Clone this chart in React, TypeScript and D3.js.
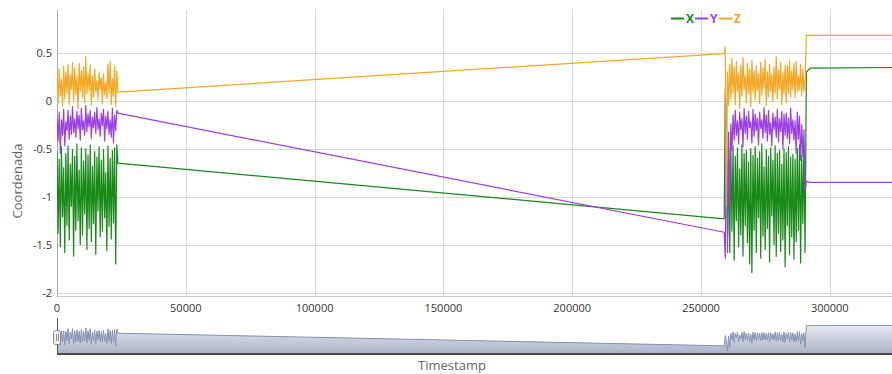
import React from "react";
import * as d3 from "d3";

// Accelerometer-style coordinate samples: two recording bursts, then a steady tail.
const SAMPLE_MS = 430;
const BURST1_START = 0;
const BURST2_START = 259000;

const X_BURST1 = [
  -0.52, -1.38, -0.61, -1.52, -0.48, -1.21, -0.7, -1.58,
  -0.55, -1.3, -0.47, -1.45, -0.66, -1.1, -0.51, -1.62,
  -0.58, -1.35, -0.45, -1.25, -0.72, -1.5, -0.49, -1.4,
  -0.63, -1.18, -0.5, -1.55, -0.57, -1.33, -0.46, -1.47,
  -0.68, -1.28, -0.53, -1.6, -0.59, -1.15, -0.48, -1.42,
  -0.62, -1.36, -0.51, -1.22, -0.75, -1.56, -0.47, -1.31,
  -0.6, -1.44, -0.52, -1.27, -0.49, -1.7, -0.46, -0.65,
];
const Y_BURST1 = [
  -0.18, -0.42, -0.12, -0.55, -0.2, -0.36, -0.09, -0.47,
  -0.22, -0.31, -0.1, -0.4, -0.16, -0.35, -0.06, -0.33,
  -0.19, -0.38, -0.11, -0.29, -0.15, -0.41, -0.08, -0.3,
  -0.21, -0.36, -0.05, -0.32, -0.14, -0.27, -0.1, -0.39,
  -0.17, -0.28, -0.12, -0.34, -0.07, -0.3, -0.19, -0.37,
  -0.13, -0.26, -0.09, -0.42, -0.16, -0.29, -0.11, -0.35,
  -0.2, -0.38, -0.08, -0.44, -0.15, -0.31, -0.1, -0.13,
];
const Z_BURST1 = [
  0.28, -0.02, 0.33, 0.05, 0.22, -0.06, 0.36, 0.02,
  0.3, 0.08, 0.38, -0.04, 0.27, 0.12, 0.4, 0.0,
  0.34, 0.06, 0.25, -0.08, 0.39, 0.1, 0.31, 0.03,
  0.35, -0.02, 0.46, 0.07, 0.29, 0.11, 0.37, -0.05,
  0.26, 0.04, 0.33, 0.09, 0.21, 0.01, 0.3, 0.12,
  0.24, -0.03, 0.28, 0.06, 0.19, 0.02, 0.38, 0.08,
  0.41, -0.04, 0.23, 0.05, 0.36, -0.06, 0.31, 0.09,
];

const X_BURST2 = [
  -1.23, 0.12, -0.28, -1.42, -0.62, -1.58, -0.5, -1.36,
  -0.47, -1.66, -0.58, -1.25, -0.49, -1.52, -0.71, -1.4,
  -0.46, -1.62, -0.55, -1.3, -0.52, -1.48, -0.64, -1.7,
  -0.5, -1.79, -0.57, -1.35, -0.48, -1.58, -0.6, -1.22,
  -0.53, -1.64, -0.45, -1.41, -0.69, -1.55, -0.51, -1.33,
  -0.58, -1.68, -0.49, -1.2, -0.62, -1.5, -0.47, -1.62,
  -0.55, -1.38, -0.52, -1.57, -0.66, -1.45, -0.5, -1.73,
  -0.54, -1.3, -0.48, -1.6, -0.59, -1.42, -0.56, -1.65,
  -0.61, -1.47, -0.5, -1.35, -0.46, -1.69, -0.57, -1.28,
  -0.44, -1.58,
];
const Y_BURST2 = [
  -1.37, -1.64, -0.18, -1.58, -0.33, -1.08, -0.24, -0.52,
  -0.15, -0.41, -0.1, -0.36, -0.21, -0.45, -0.12, -0.3,
  -0.19, -0.48, -0.08, -0.34, -0.16, -0.4, -0.11, -0.28,
  -0.22, -0.44, -0.09, -0.37, -0.14, -0.31, -0.18, -0.46,
  -0.12, -0.29, -0.2, -0.39, -0.07, -0.33, -0.15, -0.42,
  -0.1, -0.35, -0.23, -0.47, -0.13, -0.3, -0.17, -0.38,
  -0.09, -0.43, -0.19, -0.32, -0.11, -0.5, -0.14, -0.36,
  -0.13, -0.39, -0.18, -0.45, -0.08, -0.34, -0.2, -0.41,
  -0.21, -0.55, -0.12, -0.4, -0.16, -0.62, -0.25, -0.58,
  -0.3, -0.95,
];
const Z_BURST2 = [
  0.49, 0.56, -1.1, 0.3, -0.05, 0.38, 0.02, 0.44,
  0.08, 0.35, -0.04, 0.41, 0.1, 0.29, -0.08, 0.37,
  0.05, 0.45, 0.12, 0.26, -0.02, 0.39, 0.07, 0.33,
  -0.06, 0.42, 0.09, 0.31, 0.01, 0.36, 0.11, 0.28,
  -0.03, 0.4, 0.06, 0.34, 0.13, 0.43, -0.05, 0.3,
  0.04, 0.38, 0.1, 0.27, -0.01, 0.35, 0.08, 0.46,
  0.02, 0.32, 0.12, 0.4, -0.04, 0.29, 0.07, 0.37,
  -0.02, 0.36, 0.08, 0.42, 0.04, 0.31, 0.12, 0.39,
  0.03, 0.41, 0.09, 0.26, 0.11, 0.38, 0.05, 0.33,
  0.1, 0.22,
];

const TAIL_T = [290900, 292500, 345000];
const TAIL_X = [0.3, 0.34, 0.35];
const TAIL_Y = [-0.84, -0.85, -0.85];
const TAIL_Z = [0.68, 0.68, 0.68];

const SERIES_NAMES = ["X", "Y", "Z"];
const SERIES_COLORS = ["#178a17", "#9a3fe6", "#f5a623"];

const X_TICKS = [0, 50000, 100000, 150000, 200000, 250000, 300000];
const Y_TICKS = [0.5, 0, -0.5, -1, -1.5, -2];
const Y_TICK_LABELS = ["0.5", "0", "-0.5", "-1", "-1.5", "-2"];

type Pt = { t: number; v: number };

function buildSeries(b1: number[], b2: number[], tail: number[]): Pt[] {
  const pts: Pt[] = [];
  b1.forEach((v, i) => pts.push({ t: BURST1_START + i * SAMPLE_MS, v }));
  b2.forEach((v, i) => pts.push({ t: BURST2_START + i * SAMPLE_MS, v }));
  tail.forEach((v, i) => pts.push({ t: TAIL_T[i], v }));
  return pts;
}

const W = 892;
const H = 374;
const PLOT_LEFT = 57;
const PLOT_TOP = 10;
const PLOT_BOTTOM = 297;
const NAV_TOP = 318;
const NAV_BOTTOM = 354;
const FONT = "'Open Sans', 'DejaVu Sans', sans-serif";

export default function App() {
  const series = [
    buildSeries(X_BURST1, X_BURST2, TAIL_X),
    buildSeries(Y_BURST1, Y_BURST2, TAIL_Y),
    buildSeries(Z_BURST1, Z_BURST2, TAIL_Z),
  ];

  const x = d3.scaleLinear().domain([0, 300000]).range([PLOT_LEFT, 829.8]);
  const y = d3.scaleLinear().domain([-2, 0.5]).range([292.7, 52.7]);

  const line = d3
    .line<Pt>()
    .x((d) => x(d.t))
    .y((d) => y(d.v));

  // Navigator shows the summed coordinates over the full time range
  const navData: Pt[] = series[0].map((p, i) => ({
    t: p.t,
    v: p.v + series[1][i].v + series[2][i].v,
  }));
  const ny = d3.scaleLinear().domain([-2.95, 1.0]).range([353.3, 318.2]);
  const navArea = d3
    .area<Pt>()
    .x((d) => x(d.t))
    .y0(NAV_BOTTOM)
    .y1((d) => ny(d.v));
  const navLine = d3
    .line<Pt>()
    .x((d) => x(d.t))
    .y((d) => ny(d.v));

  const legendX = [671, 695, 719];

  return (
    <svg
      width={W}
      height={H}
      style={{ position: "absolute", left: 0, top: 0, background: "#fff" }}
      fontFamily={FONT}
    >
      <defs>
        <clipPath id="plot-clip">
          <rect x={PLOT_LEFT} y={PLOT_TOP} width={W - PLOT_LEFT} height={PLOT_BOTTOM - PLOT_TOP} />
        </clipPath>
        <clipPath id="nav-clip">
          <rect x={PLOT_LEFT} y={NAV_TOP - 4} width={W - PLOT_LEFT} height={NAV_BOTTOM - NAV_TOP + 4} />
        </clipPath>
        <linearGradient id="nav-fill" x1="0" y1="0" x2="0" y2="1">
          <stop offset="0%" stopColor="#e6e9f1" />
          <stop offset="100%" stopColor="#aab2c8" />
        </linearGradient>
      </defs>

      {/* horizontal grid */}
      {Y_TICKS.map((t) => (
        <line
          key={"hy" + t}
          x1={PLOT_LEFT}
          x2={W}
          y1={Math.round(y(t)) + 0.5}
          y2={Math.round(y(t)) + 0.5}
          stroke="#d6d6d6"
          strokeWidth={1}
        />
      ))}
      {/* vertical grid */}
      {X_TICKS.slice(1).map((t) => (
        <line
          key={"vx" + t}
          x1={Math.round(x(t)) + 0.5}
          x2={Math.round(x(t)) + 0.5}
          y1={PLOT_TOP}
          y2={PLOT_BOTTOM}
          stroke="#d6d6d6"
          strokeWidth={1}
        />
      ))}
      {/* axis lines */}
      <line x1={PLOT_LEFT} x2={W} y1={PLOT_BOTTOM - 0.5} y2={PLOT_BOTTOM - 0.5} stroke="#c8c8c8" />
      <line x1={PLOT_LEFT + 0.5} x2={PLOT_LEFT + 0.5} y1={PLOT_TOP} y2={PLOT_BOTTOM} stroke="#a8a8a8" />

      {/* y tick labels */}
      {Y_TICKS.map((t, i) => (
        <text
          key={"yl" + t}
          x={52}
          y={y(t) + 4}
          textAnchor="end"
          fontSize={11}
          fill="#333"
        >
          {Y_TICK_LABELS[i]}
        </text>
      ))}
      {/* x tick labels */}
      {X_TICKS.map((t) => (
        <text key={"xl" + t} x={x(t)} y={312} textAnchor="middle" fontSize={11} fill="#333">
          {t}
        </text>
      ))}

      <text
        transform="translate(22,181) rotate(-90)"
        textAnchor="middle"
        fontSize={13}
        fill="#666"
      >
        Coordenada
      </text>
      <text x={452} y={370} textAnchor="middle" fontSize={13} fill="#666">
        Timestamp
      </text>

      {/* series */}
      <g clipPath="url(#plot-clip)">
        {series.map((s, i) => (
          <path
            key={SERIES_NAMES[i]}
            d={line(s) || ""}
            fill="none"
            stroke={SERIES_COLORS[i]}
            strokeWidth={1.2}
            strokeLinejoin="round"
          />
        ))}
      </g>

      {/* legend */}
      {SERIES_NAMES.map((n, i) => (
        <g key={"lg" + n}>
          <line
            x1={legendX[i]}
            x2={legendX[i] + 13}
            y1={18.5}
            y2={18.5}
            stroke={SERIES_COLORS[i]}
            strokeWidth={2}
          />
          <text
            x={legendX[i] + 15}
            y={22.5}
            fontSize={12}
            fontWeight="bold"
            fill={SERIES_COLORS[i]}
          >
            {n}
          </text>
        </g>
      ))}

      {/* navigator */}
      <g clipPath="url(#nav-clip)">
        <path d={navArea(navData) || ""} fill="url(#nav-fill)" />
        <path d={navLine(navData) || ""} fill="none" stroke="#8390b0" strokeWidth={1} />
      </g>
      <line x1={PLOT_LEFT} x2={W} y1={NAV_BOTTOM} y2={NAV_BOTTOM} stroke="#4a4a4a" strokeWidth={2} />
      <line x1={PLOT_LEFT + 0.5} x2={PLOT_LEFT + 0.5} y1={NAV_TOP} y2={NAV_BOTTOM} stroke="#555" strokeWidth={1} />
      <rect x={53.5} y={330.5} width={7} height={14} rx={2} fill="#f2f2f2" stroke="#888" />
      <line x1={56.5} x2={56.5} y1={334} y2={341} stroke="#888" />
      <line x1={58.5} x2={58.5} y1={334} y2={341} stroke="#888" />
    </svg>
  );
}
